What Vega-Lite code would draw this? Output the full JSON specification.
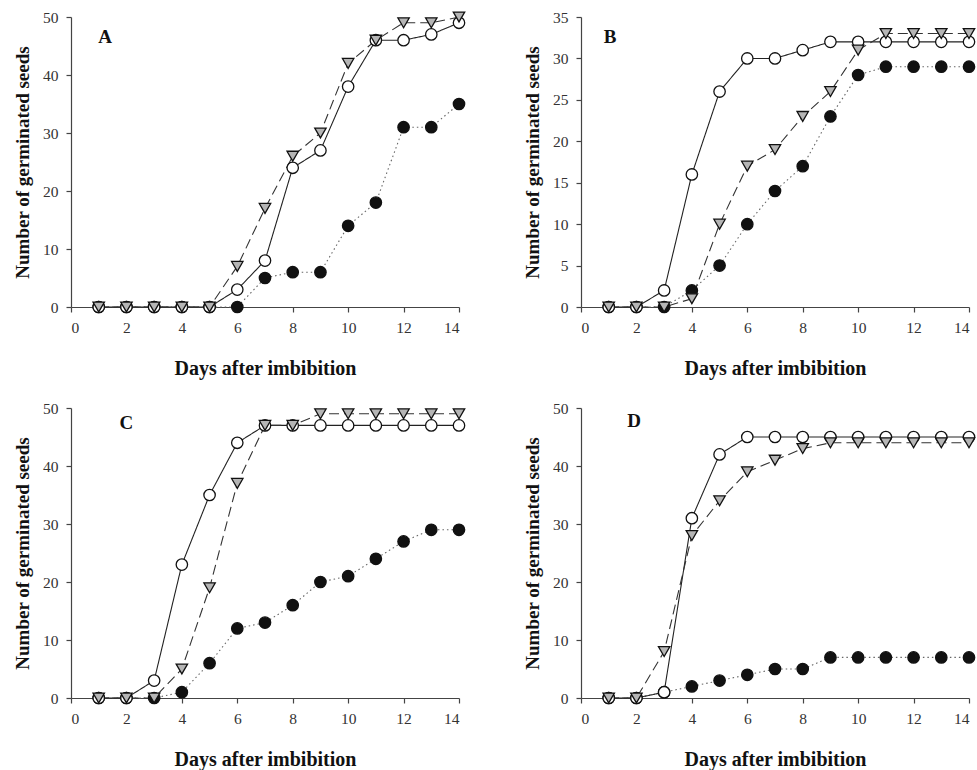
{
 "$schema": "https://vega.github.io/schema/vega-lite/v6.json",
 "background": "white",
 "padding": {"left": 13, "top": 9, "right": 0, "bottom": 0},
 "config": {
  "view": {"stroke": null},
  "font": "Liberation Serif",
  "axis": {"grid": false, "domainColor": "#444", "tickColor": "#444", "labelColor": "#333", "labelFont": "Liberation Serif", "labelFontSize": 15.5, "titleFont": "Liberation Serif", "titleFontWeight": "bold", "titleColor": "#111", "tickSize": 5, "domainWidth": 1.2, "tickWidth": 1.2, "labelPadding": 8},
  "axisY": {"titlePadding": 10, "titleFontSize": 19},
  "axisX": {"titlePadding": 23, "titleFontSize": 20}
 },
 "datasets": {
  "seeds": [
   {"p":"A","s":"filled","day":1,"n":0},{"p":"A","s":"filled","day":2,"n":0},{"p":"A","s":"filled","day":3,"n":0},{"p":"A","s":"filled","day":4,"n":0},{"p":"A","s":"filled","day":5,"n":0},{"p":"A","s":"filled","day":6,"n":0},{"p":"A","s":"filled","day":7,"n":5},{"p":"A","s":"filled","day":8,"n":6},{"p":"A","s":"filled","day":9,"n":6},{"p":"A","s":"filled","day":10,"n":14},{"p":"A","s":"filled","day":11,"n":18},{"p":"A","s":"filled","day":12,"n":31},{"p":"A","s":"filled","day":13,"n":31},{"p":"A","s":"filled","day":14,"n":35},
   {"p":"A","s":"open","day":1,"n":0},{"p":"A","s":"open","day":2,"n":0},{"p":"A","s":"open","day":3,"n":0},{"p":"A","s":"open","day":4,"n":0},{"p":"A","s":"open","day":5,"n":0},{"p":"A","s":"open","day":6,"n":3},{"p":"A","s":"open","day":7,"n":8},{"p":"A","s":"open","day":8,"n":24},{"p":"A","s":"open","day":9,"n":27},{"p":"A","s":"open","day":10,"n":38},{"p":"A","s":"open","day":11,"n":46},{"p":"A","s":"open","day":12,"n":46},{"p":"A","s":"open","day":13,"n":47},{"p":"A","s":"open","day":14,"n":49},
   {"p":"A","s":"triangle","day":1,"n":0},{"p":"A","s":"triangle","day":2,"n":0},{"p":"A","s":"triangle","day":3,"n":0},{"p":"A","s":"triangle","day":4,"n":0},{"p":"A","s":"triangle","day":5,"n":0},{"p":"A","s":"triangle","day":6,"n":7},{"p":"A","s":"triangle","day":7,"n":17},{"p":"A","s":"triangle","day":8,"n":26},{"p":"A","s":"triangle","day":9,"n":30},{"p":"A","s":"triangle","day":10,"n":42},{"p":"A","s":"triangle","day":11,"n":46},{"p":"A","s":"triangle","day":12,"n":49},{"p":"A","s":"triangle","day":13,"n":49},{"p":"A","s":"triangle","day":14,"n":50},
   {"p":"B","s":"filled","day":1,"n":0},{"p":"B","s":"filled","day":2,"n":0},{"p":"B","s":"filled","day":3,"n":0},{"p":"B","s":"filled","day":4,"n":2},{"p":"B","s":"filled","day":5,"n":5},{"p":"B","s":"filled","day":6,"n":10},{"p":"B","s":"filled","day":7,"n":14},{"p":"B","s":"filled","day":8,"n":17},{"p":"B","s":"filled","day":9,"n":23},{"p":"B","s":"filled","day":10,"n":28},{"p":"B","s":"filled","day":11,"n":29},{"p":"B","s":"filled","day":12,"n":29},{"p":"B","s":"filled","day":13,"n":29},{"p":"B","s":"filled","day":14,"n":29},
   {"p":"B","s":"open","day":1,"n":0},{"p":"B","s":"open","day":2,"n":0},{"p":"B","s":"open","day":3,"n":2},{"p":"B","s":"open","day":4,"n":16},{"p":"B","s":"open","day":5,"n":26},{"p":"B","s":"open","day":6,"n":30},{"p":"B","s":"open","day":7,"n":30},{"p":"B","s":"open","day":8,"n":31},{"p":"B","s":"open","day":9,"n":32},{"p":"B","s":"open","day":10,"n":32},{"p":"B","s":"open","day":11,"n":32},{"p":"B","s":"open","day":12,"n":32},{"p":"B","s":"open","day":13,"n":32},{"p":"B","s":"open","day":14,"n":32},
   {"p":"B","s":"triangle","day":1,"n":0},{"p":"B","s":"triangle","day":2,"n":0},{"p":"B","s":"triangle","day":3,"n":0},{"p":"B","s":"triangle","day":4,"n":1},{"p":"B","s":"triangle","day":5,"n":10},{"p":"B","s":"triangle","day":6,"n":17},{"p":"B","s":"triangle","day":7,"n":19},{"p":"B","s":"triangle","day":8,"n":23},{"p":"B","s":"triangle","day":9,"n":26},{"p":"B","s":"triangle","day":10,"n":31},{"p":"B","s":"triangle","day":11,"n":33},{"p":"B","s":"triangle","day":12,"n":33},{"p":"B","s":"triangle","day":13,"n":33},{"p":"B","s":"triangle","day":14,"n":33},
   {"p":"C","s":"filled","day":1,"n":0},{"p":"C","s":"filled","day":2,"n":0},{"p":"C","s":"filled","day":3,"n":0},{"p":"C","s":"filled","day":4,"n":1},{"p":"C","s":"filled","day":5,"n":6},{"p":"C","s":"filled","day":6,"n":12},{"p":"C","s":"filled","day":7,"n":13},{"p":"C","s":"filled","day":8,"n":16},{"p":"C","s":"filled","day":9,"n":20},{"p":"C","s":"filled","day":10,"n":21},{"p":"C","s":"filled","day":11,"n":24},{"p":"C","s":"filled","day":12,"n":27},{"p":"C","s":"filled","day":13,"n":29},{"p":"C","s":"filled","day":14,"n":29},
   {"p":"C","s":"open","day":1,"n":0},{"p":"C","s":"open","day":2,"n":0},{"p":"C","s":"open","day":3,"n":3},{"p":"C","s":"open","day":4,"n":23},{"p":"C","s":"open","day":5,"n":35},{"p":"C","s":"open","day":6,"n":44},{"p":"C","s":"open","day":7,"n":47},{"p":"C","s":"open","day":8,"n":47},{"p":"C","s":"open","day":9,"n":47},{"p":"C","s":"open","day":10,"n":47},{"p":"C","s":"open","day":11,"n":47},{"p":"C","s":"open","day":12,"n":47},{"p":"C","s":"open","day":13,"n":47},{"p":"C","s":"open","day":14,"n":47},
   {"p":"C","s":"triangle","day":1,"n":0},{"p":"C","s":"triangle","day":2,"n":0},{"p":"C","s":"triangle","day":3,"n":0},{"p":"C","s":"triangle","day":4,"n":5},{"p":"C","s":"triangle","day":5,"n":19},{"p":"C","s":"triangle","day":6,"n":37},{"p":"C","s":"triangle","day":7,"n":47},{"p":"C","s":"triangle","day":8,"n":47},{"p":"C","s":"triangle","day":9,"n":49},{"p":"C","s":"triangle","day":10,"n":49},{"p":"C","s":"triangle","day":11,"n":49},{"p":"C","s":"triangle","day":12,"n":49},{"p":"C","s":"triangle","day":13,"n":49},{"p":"C","s":"triangle","day":14,"n":49},
   {"p":"D","s":"filled","day":1,"n":0},{"p":"D","s":"filled","day":2,"n":0},{"p":"D","s":"filled","day":3,"n":1},{"p":"D","s":"filled","day":4,"n":2},{"p":"D","s":"filled","day":5,"n":3},{"p":"D","s":"filled","day":6,"n":4},{"p":"D","s":"filled","day":7,"n":5},{"p":"D","s":"filled","day":8,"n":5},{"p":"D","s":"filled","day":9,"n":7},{"p":"D","s":"filled","day":10,"n":7},{"p":"D","s":"filled","day":11,"n":7},{"p":"D","s":"filled","day":12,"n":7},{"p":"D","s":"filled","day":13,"n":7},{"p":"D","s":"filled","day":14,"n":7},
   {"p":"D","s":"open","day":1,"n":0},{"p":"D","s":"open","day":2,"n":0},{"p":"D","s":"open","day":3,"n":1},{"p":"D","s":"open","day":4,"n":31},{"p":"D","s":"open","day":5,"n":42},{"p":"D","s":"open","day":6,"n":45},{"p":"D","s":"open","day":7,"n":45},{"p":"D","s":"open","day":8,"n":45},{"p":"D","s":"open","day":9,"n":45},{"p":"D","s":"open","day":10,"n":45},{"p":"D","s":"open","day":11,"n":45},{"p":"D","s":"open","day":12,"n":45},{"p":"D","s":"open","day":13,"n":45},{"p":"D","s":"open","day":14,"n":45},
   {"p":"D","s":"triangle","day":1,"n":0},{"p":"D","s":"triangle","day":2,"n":0},{"p":"D","s":"triangle","day":3,"n":8},{"p":"D","s":"triangle","day":4,"n":28},{"p":"D","s":"triangle","day":5,"n":34},{"p":"D","s":"triangle","day":6,"n":39},{"p":"D","s":"triangle","day":7,"n":41},{"p":"D","s":"triangle","day":8,"n":43},{"p":"D","s":"triangle","day":9,"n":44},{"p":"D","s":"triangle","day":10,"n":44},{"p":"D","s":"triangle","day":11,"n":44},{"p":"D","s":"triangle","day":12,"n":44},{"p":"D","s":"triangle","day":13,"n":44},{"p":"D","s":"triangle","day":14,"n":44}
  ]
 },
 "columns": 2,
 "spacing": {"row": 22, "column": 55},
 "concat": [
  {
   "width": 388, "height": 290,
   "layer": [
    {"data": {"name": "seeds"}, "transform": [{"filter": "datum.p == 'A'"}],
     "mark": {"type": "line", "strokeWidth": 1.1},
     "encoding": {
      "x": {"field": "day", "type": "quantitative", "scale": {"domain": [0, 14], "nice": false}, "axis": {"values": [0,2,4,6,8,10,12,14], "title": "Days after imbibition"}},
      "y": {"field": "n", "type": "quantitative", "scale": {"domain": [0, 50], "nice": false}, "axis": {"values": [0,10,20,30,40,50], "title": "Number of germinated seeds"}},
      "detail": {"field": "s"},
      "strokeDash": {"field": "s", "type": "nominal", "scale": {"domain": ["open","triangle","filled"], "range": [[1,0],[10,5],[1.5,3]]}, "legend": null},
      "stroke": {"field": "s", "type": "nominal", "scale": {"domain": ["open","triangle","filled"], "range": ["#222","#333","#666"]}, "legend": null}
     }},
    {"data": {"name": "seeds"}, "transform": [{"filter": "datum.p == 'A'"}],
     "mark": {"type": "point", "filled": true, "size": 130, "stroke": "#111", "strokeWidth": 1.3, "opacity": 1},
     "encoding": {
      "x": {"field": "day", "type": "quantitative"},
      "y": {"field": "n", "type": "quantitative"},
      "shape": {"field": "s", "type": "nominal", "scale": {"domain": ["open","triangle","filled"], "range": ["circle","triangle-down","circle"]}, "legend": null},
      "fill": {"field": "s", "type": "nominal", "scale": {"domain": ["open","triangle","filled"], "range": ["#ffffff","#b5b5b5","#111111"]}, "legend": null}
     }},
    {"data": {"values": [{"label": "A"}]},
     "mark": {"type": "text", "font": "Liberation Serif", "fontSize": 19, "fontWeight": "bold", "color": "#111"},
     "encoding": {"x": {"datum": 1.23}, "y": {"datum": 46.6}, "text": {"field": "label"}}}
   ]
  },
  {
   "width": 388, "height": 290,
   "layer": [
    {"data": {"name": "seeds"}, "transform": [{"filter": "datum.p == 'B'"}],
     "mark": {"type": "line", "strokeWidth": 1.1},
     "encoding": {
      "x": {"field": "day", "type": "quantitative", "scale": {"domain": [0, 14], "nice": false}, "axis": {"values": [0,2,4,6,8,10,12,14], "title": "Days after imbibition"}},
      "y": {"field": "n", "type": "quantitative", "scale": {"domain": [0, 35], "nice": false}, "axis": {"values": [0,5,10,15,20,25,30,35], "title": "Number of germinated seeds"}},
      "detail": {"field": "s"},
      "strokeDash": {"field": "s", "type": "nominal", "scale": {"domain": ["open","triangle","filled"], "range": [[1,0],[10,5],[1.5,3]]}, "legend": null},
      "stroke": {"field": "s", "type": "nominal", "scale": {"domain": ["open","triangle","filled"], "range": ["#222","#333","#666"]}, "legend": null}
     }},
    {"data": {"name": "seeds"}, "transform": [{"filter": "datum.p == 'B'"}],
     "mark": {"type": "point", "filled": true, "size": 130, "stroke": "#111", "strokeWidth": 1.3, "opacity": 1},
     "encoding": {
      "x": {"field": "day", "type": "quantitative"},
      "y": {"field": "n", "type": "quantitative"},
      "shape": {"field": "s", "type": "nominal", "scale": {"domain": ["open","triangle","filled"], "range": ["circle","triangle-down","circle"]}, "legend": null},
      "fill": {"field": "s", "type": "nominal", "scale": {"domain": ["open","triangle","filled"], "range": ["#ffffff","#b5b5b5","#111111"]}, "legend": null}
     }},
    {"data": {"values": [{"label": "B"}]},
     "mark": {"type": "text", "font": "Liberation Serif", "fontSize": 19, "fontWeight": "bold", "color": "#111"},
     "encoding": {"x": {"datum": 1.05}, "y": {"datum": 32.6}, "text": {"field": "label"}}}
   ]
  },
  {
   "width": 388, "height": 290,
   "layer": [
    {"data": {"name": "seeds"}, "transform": [{"filter": "datum.p == 'C'"}],
     "mark": {"type": "line", "strokeWidth": 1.1},
     "encoding": {
      "x": {"field": "day", "type": "quantitative", "scale": {"domain": [0, 14], "nice": false}, "axis": {"values": [0,2,4,6,8,10,12,14], "title": "Days after imbibition"}},
      "y": {"field": "n", "type": "quantitative", "scale": {"domain": [0, 50], "nice": false}, "axis": {"values": [0,10,20,30,40,50], "title": "Number of germinated seeds"}},
      "detail": {"field": "s"},
      "strokeDash": {"field": "s", "type": "nominal", "scale": {"domain": ["open","triangle","filled"], "range": [[1,0],[10,5],[1.5,3]]}, "legend": null},
      "stroke": {"field": "s", "type": "nominal", "scale": {"domain": ["open","triangle","filled"], "range": ["#222","#333","#666"]}, "legend": null}
     }},
    {"data": {"name": "seeds"}, "transform": [{"filter": "datum.p == 'C'"}],
     "mark": {"type": "point", "filled": true, "size": 130, "stroke": "#111", "strokeWidth": 1.3, "opacity": 1},
     "encoding": {
      "x": {"field": "day", "type": "quantitative"},
      "y": {"field": "n", "type": "quantitative"},
      "shape": {"field": "s", "type": "nominal", "scale": {"domain": ["open","triangle","filled"], "range": ["circle","triangle-down","circle"]}, "legend": null},
      "fill": {"field": "s", "type": "nominal", "scale": {"domain": ["open","triangle","filled"], "range": ["#ffffff","#b5b5b5","#111111"]}, "legend": null}
     }},
    {"data": {"values": [{"label": "C"}]},
     "mark": {"type": "text", "font": "Liberation Serif", "fontSize": 19, "fontWeight": "bold", "color": "#111"},
     "encoding": {"x": {"datum": 2.0}, "y": {"datum": 47.4}, "text": {"field": "label"}}}
   ]
  },
  {
   "width": 388, "height": 290,
   "layer": [
    {"data": {"name": "seeds"}, "transform": [{"filter": "datum.p == 'D'"}],
     "mark": {"type": "line", "strokeWidth": 1.1},
     "encoding": {
      "x": {"field": "day", "type": "quantitative", "scale": {"domain": [0, 14], "nice": false}, "axis": {"values": [0,2,4,6,8,10,12,14], "title": "Days after imbibition"}},
      "y": {"field": "n", "type": "quantitative", "scale": {"domain": [0, 50], "nice": false}, "axis": {"values": [0,10,20,30,40,50], "title": "Number of germinated seeds"}},
      "detail": {"field": "s"},
      "strokeDash": {"field": "s", "type": "nominal", "scale": {"domain": ["open","triangle","filled"], "range": [[1,0],[10,5],[1.5,3]]}, "legend": null},
      "stroke": {"field": "s", "type": "nominal", "scale": {"domain": ["open","triangle","filled"], "range": ["#222","#333","#666"]}, "legend": null}
     }},
    {"data": {"name": "seeds"}, "transform": [{"filter": "datum.p == 'D'"}],
     "mark": {"type": "point", "filled": true, "size": 130, "stroke": "#111", "strokeWidth": 1.3, "opacity": 1},
     "encoding": {
      "x": {"field": "day", "type": "quantitative"},
      "y": {"field": "n", "type": "quantitative"},
      "shape": {"field": "s", "type": "nominal", "scale": {"domain": ["open","triangle","filled"], "range": ["circle","triangle-down","circle"]}, "legend": null},
      "fill": {"field": "s", "type": "nominal", "scale": {"domain": ["open","triangle","filled"], "range": ["#ffffff","#b5b5b5","#111111"]}, "legend": null}
     }},
    {"data": {"values": [{"label": "D"}]},
     "mark": {"type": "text", "font": "Liberation Serif", "fontSize": 19, "fontWeight": "bold", "color": "#111"},
     "encoding": {"x": {"datum": 1.92}, "y": {"datum": 47.8}, "text": {"field": "label"}}}
   ]
  }
 ]
}
